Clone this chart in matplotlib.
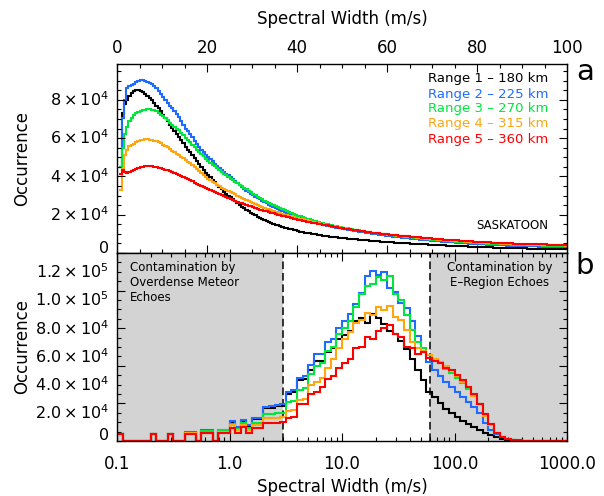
import numpy as np
import matplotlib
matplotlib.use("Agg")
import matplotlib.pyplot as plt
import matplotlib.transforms as mtransforms
from matplotlib.ticker import MultipleLocator, FixedLocator, FixedFormatter, LogLocator, NullFormatter

plt.rcParams['font.family'] = 'DejaVu Sans'
plt.rcParams['mathtext.fontset'] = 'dejavusans'

range_labels = ['Range 1 \u2013 180 km', 'Range 2 \u2013 225 km', 'Range 3 \u2013 270 km',
                'Range 4 \u2013 315 km', 'Range 5 \u2013 360 km']
range_colors = ['#000000', '#1f6bff', '#00e63c', '#ffa510', '#ff0000']

# panel a: 0.5 m/s bins starting at 0.5 m/s, occurrence in thousands
lin_start, lin_bin = 0.5, 0.5
r1_lin = [45, 73, 78, 80, 82, 83.5, 84.5, 85, 85, 84.5,
          84, 83, 82, 81, 80, 78.5, 77, 75.5, 74, 72,
          70.5, 69, 67, 65.5, 63.5, 62, 60.5, 59, 57.5, 55.5,
          54, 52.5, 51, 49.5, 48, 46.5, 45, 43.5, 42, 40.5,
          39.5, 38, 37, 35.5, 34.5, 33.5, 32, 31, 30, 29,
          28, 27, 26, 25, 24.2, 23.4, 22.6, 21.8, 21, 20.3,
          19.6, 19, 18.4, 17.8, 17.2, 16.7, 16.2, 15.7, 15.2, 14.8,
          14.4, 14, 13.6, 13.3, 13, 12.7, 12.4, 12.1, 11.8, 11.5,
          11.2, 11, 10.7, 10.5, 10.3, 10.1, 9.9, 9.7, 9.5, 9.3,
          9.1, 8.9, 8.7, 8.6, 8.4, 8.3, 8.1, 8, 7.9, 7.8,
          7.6, 7.5, 7.4, 7.3, 7.2, 7.1, 7, 6.9, 6.8, 6.7,
          6.6, 6.5, 6.4, 6.3, 6.2, 6.1, 6, 5.9, 5.8, 5.7,
          5.6, 5.5, 5.4, 5.35, 5.3, 5.2, 5.1, 5.05, 5, 4.9,
          4.85, 4.8, 4.7, 4.65, 4.6, 4.5, 4.45, 4.4, 4.3, 4.25,
          4.2, 4.1, 4.05, 4, 3.95, 3.9, 3.85, 3.8, 3.7, 3.65,
          3.6, 3.55, 3.5, 3.45, 3.4, 3.35, 3.3, 3.25, 3.2, 3.15,
          3.1, 3.05, 3, 2.95, 2.9, 2.88, 2.85, 2.8, 2.75, 2.7,
          2.68, 2.65, 2.6, 2.58, 2.55, 2.5, 2.48, 2.45, 2.42, 2.4,
          2.38, 2.35, 2.32, 2.3, 2.28, 2.25, 2.22, 2.2, 2.18, 2.15,
          2.12, 2.1, 2.08, 2.05, 2.02, 2, 1.98, 1.96, 1.94]
r2_lin = [45, 70.5, 80, 86, 87, 87.5, 88.5, 89.3, 90, 90.5,
          90.5, 90, 89.5, 89, 88, 87, 86, 84.5, 83, 81.5,
          80, 78.5, 77, 75.5, 74, 72.5, 71, 69, 67, 65,
          63.5, 62, 60.5, 58.5, 57, 55.5, 54, 52.5, 51, 50,
          49, 48, 46.5, 45.5, 44.5, 43.5, 42.5, 41.5, 40.5, 39.5,
          38.5, 37.5, 36.5, 35.5, 34.5, 33.5, 32.5, 31.8, 31, 30.2,
          29.5, 28.8, 28, 27.3, 26.6, 26, 25.3, 24.7, 24.1, 23.5,
          23, 22.4, 21.9, 21.4, 20.9, 20.4, 20, 19.5, 19.1, 18.7,
          18.3, 17.9, 17.5, 17.1, 16.8, 16.4, 16.1, 15.8, 15.5, 15.2,
          14.9, 14.6, 14.3, 14.1, 13.8, 13.6, 13.3, 13.1, 12.9, 12.6,
          12.4, 12.2, 12, 11.8, 11.6, 11.4, 11.2, 11, 10.8, 10.6,
          10.4, 10.2, 10, 9.85, 9.7, 9.5, 9.35, 9.2, 9.05, 8.9,
          8.75, 8.6, 8.45, 8.3, 8.15, 8, 7.9, 7.75, 7.6, 7.5,
          7.35, 7.25, 7.1, 7, 6.9, 6.75, 6.65, 6.55, 6.45, 6.35,
          6.25, 6.15, 6.05, 5.95, 5.85, 5.75, 5.65, 5.55, 5.5, 5.4,
          5.3, 5.2, 5.15, 5.05, 5, 4.9, 4.85, 4.75, 4.7, 4.6,
          4.55, 4.5, 4.45, 4.35, 4.3, 4.25, 4.2, 4.15, 4.1, 4.05,
          4, 3.95, 3.9, 3.85, 3.8, 3.78, 3.74, 3.7, 3.66, 3.62,
          3.58, 3.55, 3.52, 3.48, 3.45, 3.42, 3.38, 3.35, 3.32, 3.3,
          3.27, 3.24, 3.21, 3.18, 3.15, 3.12, 3.1, 3.08, 3.05]
r3_lin = [45, 55, 62, 66, 69, 70.5, 72, 73, 73.5, 74,
          74.5, 74.8, 75, 75, 74.8, 74.5, 74, 73, 72.3, 71.5,
          70.5, 69.3, 68, 67, 66, 65, 64, 62.8, 61.6, 60.3,
          59, 57.8, 56.5, 55.3, 54, 52.8, 51.6, 50.4, 49.2, 48.2,
          47.2, 46.2, 45.2, 44.2, 43.3, 42.4, 41.5, 40.6, 39.7, 38.9,
          38.1, 37.2, 36.4, 35.6, 34.8, 34, 33.2, 32.4, 31.6, 30.9,
          30.2, 29.5, 28.8, 28.1, 27.4, 26.8, 26.2, 25.6, 25, 24.4,
          23.9, 23.3, 22.8, 22.3, 21.8, 21.3, 20.8, 20.3, 19.9, 19.5,
          19.1, 18.7, 18.3, 17.9, 17.5, 17.2, 16.9, 16.5, 16.2, 15.9,
          15.6, 15.3, 15, 14.8, 14.5, 14.2, 14, 13.7, 13.5, 13.2,
          13, 12.8, 12.6, 12.4, 12.2, 12, 11.8, 11.6, 11.4, 11.2,
          11, 10.8, 10.7, 10.5, 10.3, 10.2, 10, 9.85, 9.7, 9.55,
          9.4, 9.25, 9.1, 8.95, 8.8, 8.65, 8.5, 8.4, 8.25, 8.1,
          8, 7.85, 7.75, 7.6, 7.5, 7.4, 7.3, 7.15, 7.05, 6.95,
          6.85, 6.75, 6.65, 6.55, 6.45, 6.35, 6.25, 6.15, 6.05, 5.95,
          5.9, 5.8, 5.7, 5.65, 5.55, 5.5, 5.4, 5.35, 5.25, 5.2,
          5.15, 5.05, 5, 4.95, 4.9, 4.85, 4.8, 4.75, 4.7, 4.65,
          4.6, 4.55, 4.5, 4.45, 4.42, 4.38, 4.34, 4.3, 4.26, 4.22,
          4.18, 4.14, 4.1, 4.07, 4.04, 4, 3.97, 3.94, 3.91, 3.88,
          3.85, 3.82, 3.8, 3.77, 3.74, 3.72, 3.7, 3.67, 3.65]
r4_lin = [33, 44.5, 51, 54, 56, 56.5, 57, 58, 58.5, 59,
          59.2, 59.3, 59.3, 59.2, 59, 58.7, 58.3, 57.8, 57.2, 56.6,
          55.9, 55.1, 54.3, 53.5, 52.6, 51.8, 51, 50.2, 49.4, 48.6,
          47.7, 46.8, 45.8, 44.8, 43.8, 42.8, 41.8, 40.8, 39.8, 38.9,
          38, 37.2, 36.4, 35.6, 34.9, 34.2, 33.6, 33, 32.4, 31.8,
          31.2, 30.6, 30, 29.4, 28.8, 28.2, 27.6, 27.1, 26.6, 26.1,
          25.6, 25.1, 24.6, 24.1, 23.7, 23.2, 22.8, 22.4, 22, 21.6,
          21.2, 20.8, 20.5, 20.1, 19.8, 19.5, 19.1, 18.8, 18.5, 18.2,
          17.9, 17.6, 17.3, 17, 16.7, 16.4, 16.1, 15.9, 15.6, 15.3,
          15.1, 14.8, 14.6, 14.3, 14.1, 13.9, 13.6, 13.4, 13.2, 13,
          12.8, 12.6, 12.4, 12.2, 12, 11.8, 11.6, 11.5, 11.3, 11.1,
          11, 10.8, 10.7, 10.5, 10.4, 10.2, 10.1, 9.95, 9.8, 9.65,
          9.5, 9.35, 9.2, 9.1, 8.95, 8.8, 8.7, 8.55, 8.45, 8.3,
          8.2, 8.1, 7.95, 7.85, 7.75, 7.65, 7.55, 7.45, 7.35, 7.25,
          7.15, 7.05, 6.95, 6.85, 6.75, 6.65, 6.55, 6.5, 6.4, 6.3,
          6.2, 6.15, 6.05, 5.95, 5.9, 5.8, 5.75, 5.65, 5.6, 5.5,
          5.45, 5.4, 5.3, 5.25, 5.2, 5.15, 5.1, 5.05, 4.98, 4.92,
          4.87, 4.82, 4.78, 4.73, 4.68, 4.64, 4.6, 4.56, 4.52, 4.48,
          4.44, 4.4, 4.36, 4.33, 4.3, 4.26, 4.23, 4.2, 4.17, 4.14,
          4.11, 4.08, 4.05, 4.02, 4, 3.97, 3.95, 3.92, 3.9]
r5_lin = [41, 43.5, 42.5, 41.8, 42.5, 43, 43.5, 44, 44.3, 44.7,
          45, 45.2, 45.3, 45.3, 45.2, 45, 44.8, 44.5, 44.2, 43.9,
          43.5, 43.1, 42.7, 42.3, 41.8, 41.3, 40.8, 40.3, 39.8, 39.2,
          38.6, 38, 37.4, 36.8, 36.1, 35.5, 34.9, 34.3, 33.8, 33.3,
          32.8, 32.3, 31.7, 31.1, 30.6, 30.1, 29.6, 29.1, 28.6, 28.1,
          27.6, 27.1, 26.7, 26.3, 25.9, 25.5, 25.1, 24.7, 24.3, 23.9,
          23.5, 23.1, 22.7, 22.4, 22, 21.7, 21.3, 21, 20.7, 20.4,
          20.1, 19.8, 19.5, 19.2, 18.9, 18.6, 18.3, 18, 17.7, 17.4,
          17.2, 16.9, 16.7, 16.4, 16.2, 15.9, 15.7, 15.5, 15.2, 15,
          14.8, 14.6, 14.4, 14.1, 13.9, 13.7, 13.5, 13.3, 13.1, 12.9,
          12.7, 12.5, 12.3, 12.2, 12, 11.8, 11.6, 11.5, 11.3, 11.2,
          11, 10.9, 10.7, 10.6, 10.4, 10.3, 10.1, 10, 9.9, 9.75,
          9.6, 9.5, 9.35, 9.25, 9.1, 9, 8.9, 8.8, 8.65, 8.55,
          8.45, 8.35, 8.25, 8.15, 8.05, 7.95, 7.85, 7.75, 7.65, 7.55,
          7.45, 7.35, 7.25, 7.15, 7.05, 6.95, 6.9, 6.8, 6.7, 6.6,
          6.55, 6.45, 6.35, 6.3, 6.2, 6.15, 6.05, 6, 5.9, 5.85,
          5.8, 5.7, 5.65, 5.6, 5.5, 5.45, 5.4, 5.35, 5.3, 5.25,
          5.2, 5.15, 5.1, 5.05, 5, 4.96, 4.92, 4.88, 4.84, 4.8,
          4.76, 4.72, 4.68, 4.65, 4.62, 4.58, 4.55, 4.52, 4.49, 4.46,
          4.43, 4.4, 4.37, 4.34, 4.31, 4.28, 4.26, 4.24, 4.22]

# panel b: 20 log bins per decade, 0.1 - 1000 m/s, occurrence in thousands
log_min, log_bins_per_decade = 0.1, 20
r1_log = [5, 0, 0, 0, 0, 0, 5, 0, 0, 5,
          0, 0, 5.5, 5.5, 0, 6, 6, 0, 6.5, 6.5,
          13, 9.5, 14.5, 10.5, 15.5, 15.5, 23.5, 23.5, 24.5, 25,
          33.5, 34.5, 43, 44, 50, 57, 57, 63, 66, 72,
          75, 78, 85, 87, 84, 90, 87, 83, 78, 76,
          71, 65, 58, 50, 43, 35, 31, 27, 23, 20,
          17, 14.5, 12, 10, 8, 6, 4.3, 2.8, 1.6, 0.8,
          0.3, 0, 0, 0, 0, 0, 0, 0, 0, 0]
r2_log = [5, 0, 0, 0, 0, 0, 5, 0, 0, 5,
          0, 0, 6.5, 6.5, 0, 7.5, 7.5, 0, 8, 8,
          14, 10, 15, 11, 16, 16, 24, 24.5, 25.5, 26,
          35, 36, 45, 46, 54, 62, 62, 70, 72, 80,
          85, 90, 97, 105, 117, 120.5, 118, 119.5, 108.5, 106,
          98, 94.5, 85, 74.5, 63, 56, 50, 46, 42, 38.5,
          35, 31, 27.5, 24, 19.5, 12.5, 7.5, 5, 3, 1.3,
          0.6, 0.3, 0, 0, 0, 0, 0, 0, 0, 0]
r3_log = [5, 0, 0, 0, 0, 0, 5, 0, 0, 5,
          0, 0, 6, 6, 0, 7, 7, 0, 7.5, 7.5,
          12, 8.5, 13, 9, 12.5, 12.5, 19, 19, 19.5, 20,
          27.5, 28.5, 36.5, 37.5, 47.5, 53, 55, 64, 67, 76,
          80, 85, 95, 104, 110, 111, 116, 114, 117, 104,
          100, 89, 79, 70, 66, 61, 58, 55, 51, 48,
          45, 41, 37, 32, 26, 18, 11, 6, 3, 1.5,
          0.6, 0.3, 0, 0, 0, 0, 0, 0, 0, 0]
r4_log = [5, 0, 0, 0, 0, 0, 5, 0, 0, 5,
          0, 0, 5.5, 5.5, 0, 6, 6, 0, 6.5, 6.5,
          11, 7.5, 11.5, 8, 11.5, 11.5, 16, 16, 16.5, 17,
          21.5, 22, 29, 30, 40, 42, 45, 52, 58, 66,
          72, 77, 84, 86, 91, 89, 95, 93, 96, 88,
          86, 79, 70, 66, 64, 61, 58, 56, 53, 50,
          46, 42, 38, 32, 26, 18, 11, 6, 3, 1.5,
          0.7, 0.3, 0, 0, 0, 0, 0, 0, 0, 0]
r5_log = [5, 0, 0, 0, 0, 0, 5, 0, 0, 5,
          0, 0, 5, 5, 0, 5.5, 5.5, 0, 5.5, 5.5,
          9.5, 5.5, 10, 5.5, 9, 9, 12.5, 12.5, 13, 13.5,
          16.5, 17, 26, 26.5, 33, 35, 38, 44, 46, 52,
          55, 58, 66, 67, 74, 72, 78, 80, 82, 76,
          74, 67, 66, 62, 63, 59, 57, 55, 52, 50,
          47, 43, 38, 33, 26, 19, 12, 6, 3, 1.5,
          0.8, 0.5, 0.3, 0, 0, 0, 0, 0, 0, 0]

top_ylim = 98700
bot_ylim = 133300
meteor_limit = 3.0     # m/s
eregion_limit = 60.0   # m/s

lin_series = [r1_lin, r2_lin, r3_lin, r4_lin, r5_lin]
log_series = [r1_log, r2_log, r3_log, r4_log, r5_log]

W, H = 604, 496
fig = plt.figure(figsize=(W / 100, H / 100), dpi=100)


def box(left, top, right, bottom):
    return [left / W, 1 - bottom / H, (right - left) / W, (bottom - top) / H]


ax1 = fig.add_axes(box(117, 64, 567, 253))
ax2 = fig.add_axes(box(117, 253, 567, 441))

for vals, col in zip(lin_series, range_colors):
    edges = lin_start + lin_bin * np.arange(len(vals) + 1)
    ax1.stairs(np.array(vals) * 1e3, edges, color=col, lw=1.5, baseline=None)

for vals, col in zip(log_series, range_colors):
    edges = log_min * 10 ** (np.arange(len(vals) + 1) / log_bins_per_decade)
    ax2.stairs(np.array(vals) * 1e3, edges, color=col, lw=1.5, baseline=None, zorder=3)

gray = '#d3d3d3'
ax2.axvspan(0.1, meteor_limit, color=gray, lw=0, zorder=0)
ax2.axvspan(eregion_limit, 1000, color=gray, lw=0, zorder=0)
for xv in (meteor_limit, eregion_limit):
    ax2.axvline(xv, color='k', lw=1.1, ls=(0, (5, 2.5)), zorder=2)

# axes set-up
ax1.set_xlim(0, 100)
ax1.set_ylim(0, top_ylim)
ax1.xaxis.set_major_locator(MultipleLocator(20))
ax1.xaxis.set_minor_locator(MultipleLocator(5))
ax1.yaxis.set_major_locator(MultipleLocator(20000))
ax1.yaxis.set_minor_locator(MultipleLocator(5000))
ax1.tick_params(which='both', direction='in', top=True, bottom=True, left=True, right=True,
                labeltop=True, labelbottom=False, labelleft=False, width=0.8)
ax1.tick_params(which='major', length=6, labelsize=12, pad=5)
ax1.tick_params(which='minor', length=3)

ax2.set_xscale('log')
ax2.set_xlim(0.1, 1000)
ax2.set_ylim(0, bot_ylim)
xt = [0.1, 1, 10, 100, 1000]
ax2.xaxis.set_major_locator(FixedLocator(xt))
ax2.xaxis.set_major_formatter(FixedFormatter(['0.1', '1.0', '10.0', '100.0', '1000.0']))
ax2.xaxis.set_minor_locator(LogLocator(base=10, subs=range(2, 10), numticks=20))
ax2.xaxis.set_minor_formatter(NullFormatter())
ax2.yaxis.set_major_locator(FixedLocator(bot_ylim / 5 * np.arange(6)))
ax2.yaxis.set_minor_locator(FixedLocator(bot_ylim / 20 * np.arange(21)))
ax2.tick_params(which='both', direction='in', top=True, bottom=True, left=True, right=True,
                labelleft=False, width=0.8)
ax2.tick_params(which='major', length=6, labelsize=12, pad=10)
ax2.tick_params(which='minor', length=3)

for ax in (ax1, ax2):
    for sp in ax.spines.values():
        sp.set_linewidth(1.0)
        sp.set_zorder(5)


def y_labels(ax, values, texts):
    base = mtransforms.blended_transform_factory(ax.transAxes, ax.transData)
    for v, t in zip(values, texts):
        tr = mtransforms.offset_copy(base, fig=fig, x=-8, y=5 if v == 0 else 0, units='dots')
        ax.text(0, v, t, transform=tr, ha='right', va='center', fontsize=11.5)


y_labels(ax1, [0, 20000, 40000, 60000, 80000],
         ['0', r'$2\times10^4$', r'$4\times10^4$', r'$6\times10^4$', r'$8\times10^4$'])
y_labels(ax2, [0, 20000, 40000, 60000, 80000, 100000, 120000],
         ['0', r'$2.0\times10^4$', r'$4.0\times10^4$', r'$6.0\times10^4$', r'$8.0\times10^4$',
          r'$1.0\times10^5$', r'$1.2\times10^5$'])

# legend text
leg_y = [0.921, 0.841, 0.762, 0.683, 0.603]
for lab, col, yy in zip(range_labels, range_colors, leg_y):
    ax1.text(0.958, yy, lab, color=col, transform=ax1.transAxes, ha='right', va='center', fontsize=9.5)
ax1.text(0.958, 0.143, 'SASKATOON', transform=ax1.transAxes, ha='right', va='center', fontsize=8.5)

for i, line in enumerate(['Contamination by', 'Overdense Meteor', 'Echoes']):
    ax2.text(0.029, 0.924 - i * 0.08, line, transform=ax2.transAxes, ha='left', va='center', fontsize=8.5)
for i, line in enumerate(['Contamination by', 'E\u2013Region Echoes']):
    ax2.text(0.851, 0.924 - i * 0.08, line, transform=ax2.transAxes, ha='center', va='center', fontsize=8.5)

fig.text(585 / W, 1 - 72 / H, 'a', fontsize=21, ha='center', va='center')
fig.text(585 / W, 1 - 266 / H, 'b', fontsize=21, ha='center', va='center')

fig.text(342 / W, 1 - 19 / H, 'Spectral Width (m/s)', fontsize=12, ha='center', va='center')
fig.text(342 / W, 1 - 487 / H, 'Spectral Width (m/s)', fontsize=12, ha='center', va='center')
fig.text(22 / W, 1 - 158 / H, 'Occurrence', fontsize=12, rotation=90, ha='center', va='center')
fig.text(22 / W, 1 - 347 / H, 'Occurrence', fontsize=12, rotation=90, ha='center', va='center')

fig.savefig('out.png', dpi=100)
